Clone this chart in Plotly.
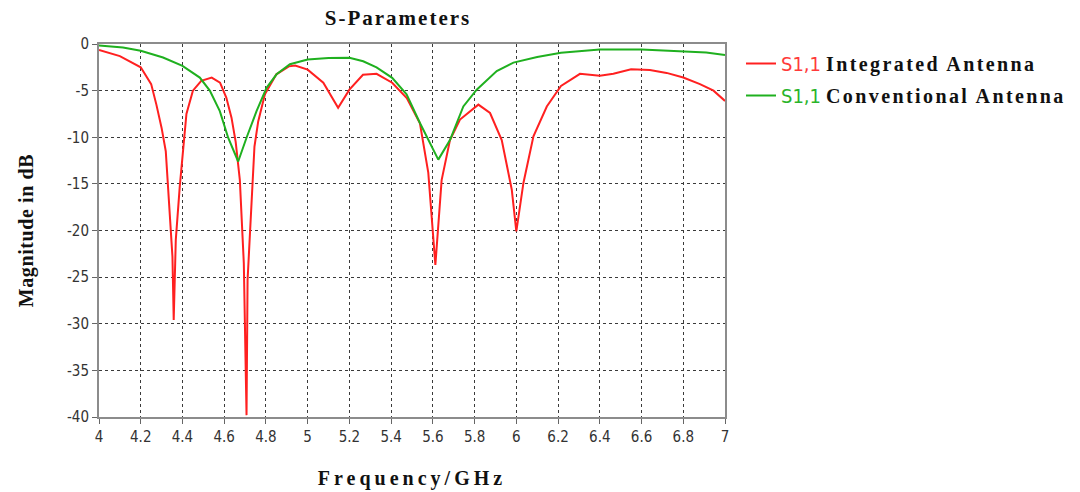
import plotly.graph_objects as go

# ---- data ----
freq_integrated = [4.00, 4.10, 4.20, 4.25, 4.275, 4.30, 4.32, 4.339, 4.352, 4.358, 4.368, 4.387,
                   4.403, 4.419, 4.45, 4.49, 4.54, 4.58, 4.61, 4.635, 4.655, 4.675, 4.694, 4.707,
                   4.712, 4.731, 4.745, 4.763, 4.795, 4.85, 4.91, 4.94, 5.00, 5.075, 5.146, 5.20,
                   5.265, 5.33, 5.405, 5.475, 5.538, 5.578, 5.612, 5.642, 5.682, 5.73, 5.818, 5.874,
                   5.93, 5.978, 6.00, 6.034, 6.082, 6.146, 6.214, 6.305, 6.40, 6.465, 6.55, 6.64,
                   6.72, 6.80, 6.88, 6.945, 7.00]
s11_integrated = [-0.65, -1.3, -2.5, -4.3, -6.5, -9.0, -11.5, -18.2, -22.8, -29.6, -21.0, -15.3,
                  -11.1, -7.5, -5.0, -3.95, -3.6, -4.15, -5.75, -7.9, -10.5, -14.6, -23.5, -39.8,
                  -25.3, -16.4, -11.0, -8.3, -5.4, -3.25, -2.4, -2.3, -2.75, -4.15, -6.85, -4.9,
                  -3.3, -3.2, -4.15, -5.8, -8.5, -13.8, -23.7, -14.6, -10.3, -8.1, -6.5, -7.4,
                  -10.3, -15.6, -20.1, -14.9, -9.9, -6.7, -4.5, -3.2, -3.4, -3.2, -2.72, -2.8,
                  -3.1, -3.6, -4.3, -5.0, -6.1]

freq_conventional = [4.00, 4.115, 4.20, 4.307, 4.40, 4.483, 4.531, 4.579, 4.619, 4.667, 4.707,
                     4.755, 4.803, 4.851, 4.915, 5.00, 5.10, 5.20, 5.266, 5.33, 5.405, 5.474,
                     5.538, 5.626, 5.682, 5.746, 5.81, 5.906, 5.986, 6.10, 6.214, 6.40, 6.60,
                     6.78, 6.91, 7.00]
s11_conventional = [-0.15, -0.38, -0.73, -1.45, -2.35, -3.6, -5.0, -7.2, -10.05, -12.6, -10.05,
                    -7.2, -4.7, -3.25, -2.17, -1.67, -1.5, -1.48, -1.85, -2.5, -3.63, -5.4,
                    -8.47, -12.4, -10.3, -6.7, -4.9, -2.9, -2.0, -1.4, -0.95, -0.6, -0.6,
                    -0.76, -0.9, -1.17]

x_ticks = [4.0, 4.2, 4.4, 4.6, 4.8, 5.0, 5.2, 5.4, 5.6, 5.8, 6.0, 6.2, 6.4, 6.6, 6.8, 7.0]
x_tick_labels = ["4", "4.2", "4.4", "4.6", "4.8", "5", "5.2", "5.4", "5.6", "5.8",
                 "6", "6.2", "6.4", "6.6", "6.8", "7"]
y_ticks = [0, -5, -10, -15, -20, -25, -30, -35, -40]
y_tick_labels = ["0", "-5", "-10", "-15", "-20", "-25", "-30", "-35", "-40"]

series_names = ["Integrated Antenna", "Conventional Antenna"]
series_prefix = "S1,1"

NARROW = "DejaVu Sans Condensed, Liberation Sans Narrow, Arial Narrow, Liberation Sans, sans-serif"
SERIF = "Liberation Serif, Times New Roman, serif"


def legend_name(color, label):
    return ('<span style="font-family:%s;font-weight:normal;fill:%s;color:%s">%s</span> '
            '<b><span style="letter-spacing:2.4px">%s</span></b>' % (NARROW, color, color, series_prefix, label))


fig = go.Figure()
fig.add_trace(go.Scatter(
    x=freq_integrated, y=s11_integrated, mode="lines",
    line=dict(color="#ff2020", width=2),
    name=legend_name("#ff3a3a", series_names[0]), legendgroup="a",
))
fig.add_trace(go.Scatter(
    x=freq_conventional, y=s11_conventional, mode="lines",
    line=dict(color="#1fb01f", width=2),
    name=legend_name("#2ab42a", series_names[1]), legendgroup="b",
))

axis_common = dict(
    showgrid=True, gridcolor="#3a3a3a", griddash="dot", gridwidth=1,
    showline=True, linecolor="#8c8c8c", linewidth=2, mirror=True,
    ticks="outside", ticklen=5, tickcolor="#666", tickwidth=1,
    zeroline=False,
    tickfont=dict(family=NARROW, size=15, color="#333"),
)

fig.update_layout(
    width=1080, height=492,
    margin=dict(l=99, r=355, t=44, b=75, autoexpand=False),
    paper_bgcolor="white", plot_bgcolor="white",
    title=dict(text='<b><span style="letter-spacing:2px">S-Parameters</span></b>',
               x=398 / 1080, xanchor="center", y=1 - 18 / 492, yanchor="middle",
               xref="container", yref="container",
               font=dict(family=SERIF, size=21, color="#111")),
    xaxis=dict(range=[4, 7], tickvals=x_ticks, ticktext=x_tick_labels,
               title=dict(text='<b><span style="letter-spacing:4px">Frequency/GHz</span></b>',
                          font=dict(family=SERIF, size=20, color="#111"), standoff=26),
               **axis_common),
    yaxis=dict(range=[-40, 0], tickvals=y_ticks, ticktext=y_tick_labels,
               title=dict(text='<b><span style="letter-spacing:0.6px">Magnitude in dB</span></b>',
                          font=dict(family=SERIF, size=20, color="#111"), standoff=28),
               **axis_common),
    showlegend=True,
    legend=dict(x=741 / 1080, xanchor="left", y=1 - 44 / 492, yanchor="top",
                xref="container", yref="container",
                font=dict(family=SERIF, size=20, color="#111"),
                bgcolor="rgba(0,0,0,0)", borderwidth=0, tracegroupgap=3,
                traceorder="grouped", itemwidth=30),
)

fig.write_html("out.html")
